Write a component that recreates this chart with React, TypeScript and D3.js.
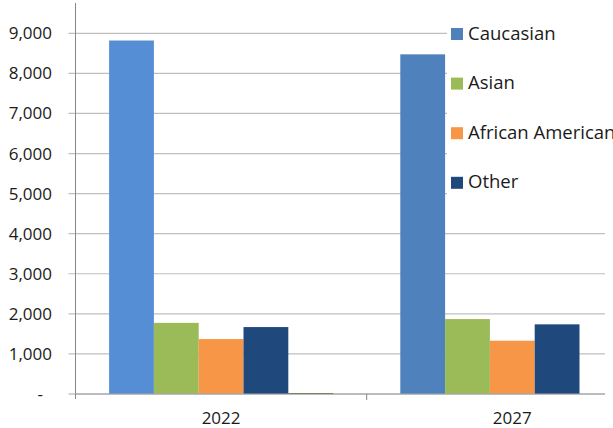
import React, { useEffect, useRef } from 'react';
import * as d3 from 'd3';

const years = ['2022', '2027'];
const seriesNames = ['Caucasian', 'Asian', 'African American', 'Other', 'Unknown'];
const caucasian = [8820, 8475];
const asian = [1775, 1870];
const africanAmerican = [1370, 1330];
const other = [1670, 1738];
const unknown = [25, 0];
const seriesColors = ['#4F81BD', '#9BBB59', '#F79646', '#1F497D', '#4F6228'];
const legendNames = ['Caucasian', 'Asian', 'African American', 'Other'];
const yTicks = [0, 1000, 2000, 3000, 4000, 5000, 6000, 7000, 8000, 9000];

const W = 613;
const H = 428;
const AXIS_X = 75.5;
const BASE_Y = 394;
const GRID_END = 605;

const App: React.FC = () => {
  const svgRef = useRef<SVGSVGElement>(null);

  useEffect(() => {
    if (!svgRef.current) return;
    const svg = d3.select(svgRef.current);
    svg.selectAll('*').remove();

    const font = '"Open Sans", "Noto Sans", sans-serif';
    const values = [caucasian, asian, africanAmerican, other, unknown];

    const y = d3.scaleLinear().domain([0, 9000]).range([BASE_Y, 33.3]);
    const x0 = d3.scaleBand().domain(years).range([AXIS_X, AXIS_X + 582.4]);
    const x1 = d3.scaleBand().domain(seriesNames).range([0, x0.bandwidth()]).paddingInner(0).paddingOuter(0.75);

    // gridlines + tick stubs
    yTicks.forEach(t => {
      svg.append('line')
        .attr('x1', AXIS_X - 7).attr('x2', GRID_END)
        .attr('y1', y(t)).attr('y2', y(t))
        .attr('stroke', t === 0 ? '#A6A6A6' : '#BFBFBF')
        .attr('stroke-width', 1.2);
      svg.append('text')
        .attr('x', t === 0 ? 43 : 52)
        .attr('y', y(t) + 6)
        .attr('text-anchor', 'end')
        .attr('font-family', font)
        .attr('font-size', 17)
        .attr('fill', '#1a1a1a')
        .text(t === 0 ? '-' : d3.format(',')(t));
    });

    // bars
    years.forEach((yr, i) => {
      seriesNames.forEach((s, j) => {
        const v = values[j][i];
        if (v <= 0) return;
        let fill = seriesColors[j];
        if (j === 0 && yr === '2022') fill = '#558ED5';
        svg.append('rect')
          .attr('x', (x0(yr) as number) + (x1(s) as number))
          .attr('y', y(v))
          .attr('width', x1.bandwidth())
          .attr('height', Math.max(1, BASE_Y - y(v)))
          .attr('fill', fill);
      });
    });

    // axes lines
    svg.append('line')
      .attr('x1', AXIS_X).attr('x2', AXIS_X)
      .attr('y1', 3).attr('y2', BASE_Y + 5)
      .attr('stroke', '#868686').attr('stroke-width', 1);
    svg.append('line')
      .attr('x1', AXIS_X).attr('x2', GRID_END)
      .attr('y1', BASE_Y).attr('y2', BASE_Y)
      .attr('stroke', '#A6A6A6').attr('stroke-width', 1.2);
    years.forEach((yr, i) => {
      if (i > 0) {
        svg.append('line')
          .attr('x1', x0(yr) as number).attr('x2', x0(yr) as number)
          .attr('y1', BASE_Y).attr('y2', BASE_Y + 6)
          .attr('stroke', '#868686');
      }
      svg.append('text')
        .attr('x', (x0(yr) as number) + x0.bandwidth() / 2)
        .attr('y', 423.5)
        .attr('text-anchor', 'middle')
        .attr('font-family', font)
        .attr('font-size', 17)
        .attr('fill', '#1a1a1a')
        .text(yr);
    });

    // legend
    const lg = svg.append('g');
    lg.append('rect')
      .attr('x', 447).attr('y', 5).attr('width', W - 447).attr('height', 195)
      .attr('fill', '#fff');
    legendNames.forEach((n, i) => {
      const ly = 28 + i * 49.6;
      lg.append('rect')
        .attr('x', 451).attr('y', ly).attr('width', 12).attr('height', 12)
        .attr('fill', seriesColors[i]);
      lg.append('text')
        .attr('x', 468)
        .attr('y', ly + 11.5)
        .attr('font-family', font)
        .attr('font-size', 18.5)
        .attr('fill', '#1a1a1a')
        .text(n);
    });
  }, []);

  return (
    <div style={{ position: 'fixed', left: 0, top: 0, width: W, height: H, background: '#fff' }}>
      <svg ref={svgRef} width={W} height={H} style={{ display: 'block' }} />
    </div>
  );
};

export default App;
